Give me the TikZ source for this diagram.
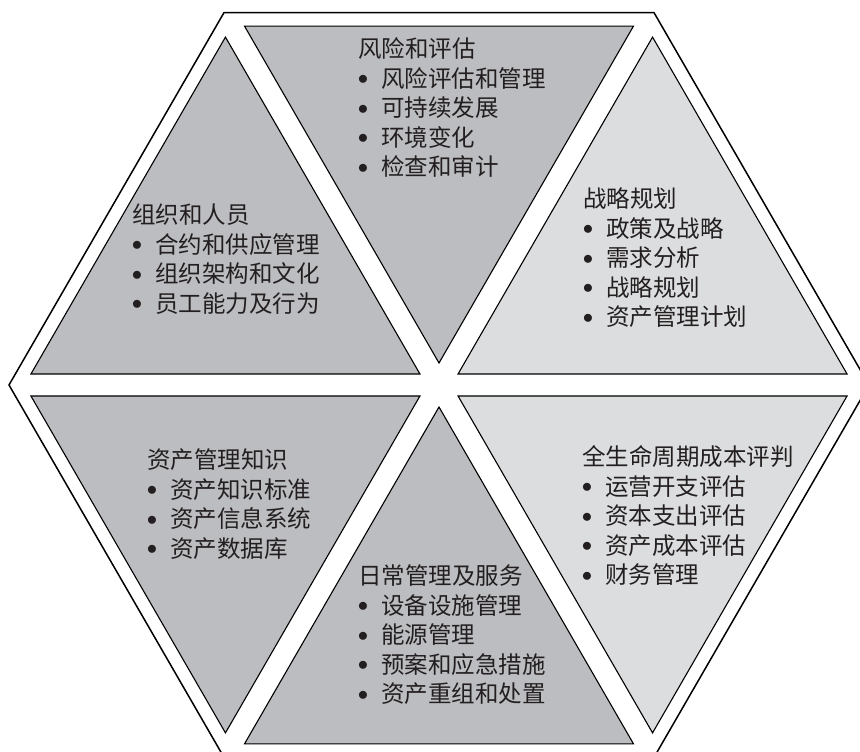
\documentclass[tikz,border=0pt]{standalone}
\usepackage{fontspec}
\newfontfamily\cjkf{Noto Sans CJK SC}
\definecolor{darkfill}{RGB}{188,189,192}
\definecolor{lightfill}{RGB}{220,221,223}
\definecolor{txtc}{RGB}{35,31,32}
\tikzset{
  ttl/.style={anchor=base west, inner sep=0pt, text=txtc, font=\cjkf\fontsize{23.5}{28}\selectfont},
  bul/.style={anchor=base, inner sep=0pt, text=txtc, yshift=2.5pt, font=\fontsize{21}{26}\selectfont},
  hexline/.style={draw=black, line width=1.5pt, line join=miter},
  tri/.style={draw=black, line width=1.1pt, line join=miter},
}
\newcommand{\hxblock}[5]{%
  \node[ttl] (#1) at (#2,#3) {#4};
  \foreach \itm [count=\nn] in {#5} {
    \node[bul] (#1b\nn) at (#2+5,#3-29.5*\nn) {$\bullet$};
    \node[ttl] (#1i\nn) at (#2+23,#3-29.5*\nn) {\itm};
  }%
}
\newcommand{\hxtri}[2]{% #1 bisector angle, #2 fill
  \path (C) ++(#1:22) coordinate (O#1);
  \draw[tri, fill=#2] (O#1) -- ([shift={(#1-30:389)}]O#1) -- ([shift={(#1+30:389)}]O#1) -- cycle;
}
\begin{document}
\begin{tikzpicture}[x=1pt,y=1pt]
\path[use as bounding box] (0,0) rectangle (860,752);
\begin{scope}
\clip (0,0) rectangle (860,752);
\coordinate (C) at (439,367);
\draw[hexline] ([shift={(0:430)}]C) -- ([shift={(60:430)}]C) -- ([shift={(120:430)}]C)
  -- ([shift={(180:430)}]C) -- ([shift={(240:430)}]C) -- ([shift={(300:430)}]C) -- cycle;
\hxtri{90}{darkfill}
\hxtri{150}{darkfill}
\hxtri{210}{darkfill}
\hxtri{270}{darkfill}
\hxtri{330}{lightfill}
\hxtri{30}{lightfill}
\end{scope}
\hxblock{top}{358}{694}{风险和评估}{风险评估和管理,可持续发展,环境变化,检查和审计}
\hxblock{tl}{132}{528}{组织和人员}{合约和供应管理,组织架构和文化,员工能力及行为}
\hxblock{tr}{583}{544}{战略规划}{政策及战略,需求分析,战略规划,资产管理计划}
\hxblock{bl}{147}{283}{资产管理知识}{资产知识标准,资产信息系统,资产数据库}
\hxblock{br}{582}{286}{全生命周期成本评判}{运营开支评估,资本支出评估,资产成本评估,财务管理}
\hxblock{bot}{358}{167}{日常管理及服务}{设备设施管理,能源管理,预案和应急措施,资产重组和处置}
\end{tikzpicture}
\end{document}
